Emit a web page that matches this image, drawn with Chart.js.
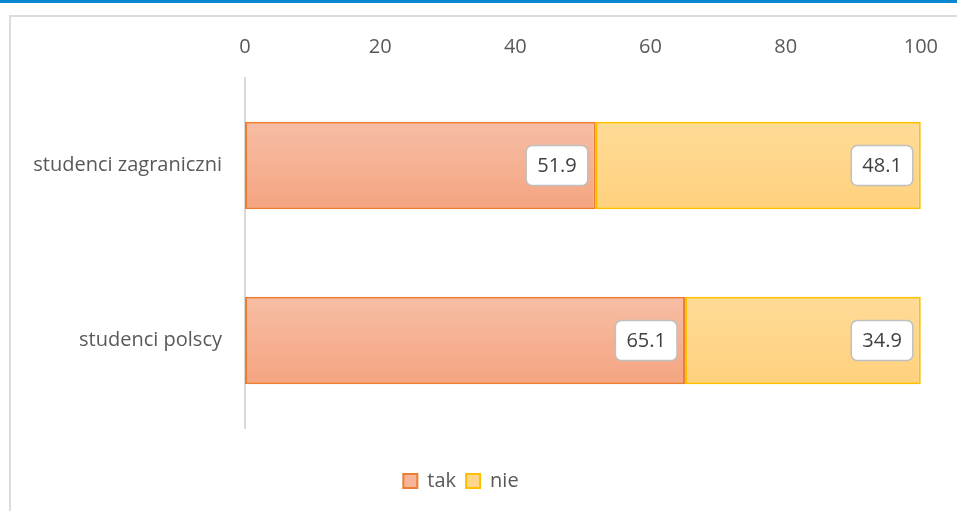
<!DOCTYPE html>
<html>
<head>
<meta charset="utf-8">
<script src="https://cdn.jsdelivr.net/npm/chart.js@4/dist/chart.umd.min.js"></script>
<style>
  body { margin: 0; background: #fff; overflow: hidden; }
  .topbar { position: absolute; left: 0; top: 0; width: 957px; height: 3px; background: #0a88cf; }
  .frame { position: absolute; left: 9px; top: 15px; width: 1000px; height: 600px; border: 2px solid #dcdcdc; }
  .wrap { position: absolute; left: 0; top: 0; width: 957px; height: 511px; }
</style>
</head>
<body>
<div class="topbar"></div>
<div class="frame"></div>
<div class="wrap"><canvas id="chart"></canvas></div>
<script>
// Data
const categories = ['studenci zagraniczni', 'studenci polscy'];
const tak = [51.9, 65.1];
const nie = [48.1, 34.9];
const seriesNames = ['tak', 'nie'];
const tickValues = [0, 20, 40, 60, 80, 100];

const FONT = '"Open Sans", Lato, sans-serif';

// vertical gradient for each bar, based on the category position
const barGradient = (top, bottom) => ctx => {
  const chart = ctx.chart;
  const y = chart.scales.y;
  if (!y || !chart.chartArea || ctx.dataIndex === undefined) return top;
  const c = y.getPixelForValue(ctx.dataIndex);
  const half = y.height / categories.length / 4;
  const g = chart.ctx.createLinearGradient(0, c - half, 0, c + half);
  g.addColorStop(0, top);
  g.addColorStop(1, bottom);
  return g;
};

// labels in white rounded boxes at the inner end of each bar
const boxLabels = {
  id: 'boxLabels',
  afterDatasetsDraw: chart => {
    const ctx = chart.ctx;
    ctx.save();
    ctx.font = '20px ' + FONT;
    ctx.textAlign = 'center';
    ctx.textBaseline = 'middle';
    chart.data.datasets.forEach((ds, i) => {
      chart.getDatasetMeta(i).data.forEach((bar, j) => {
        const txt = ds.data[j].toFixed(1);
        const w = ctx.measureText(txt).width + 22;
        const h = 40;
        const x = bar.x - 8 - w;
        const y = bar.y - h / 2;
        ctx.beginPath();
        ctx.roundRect(x, y, w, h, 6);
        ctx.fillStyle = '#fff';
        ctx.fill();
        ctx.lineWidth = 1.5;
        ctx.strokeStyle = '#bfbfbf';
        ctx.stroke();
        ctx.fillStyle = '#404040';
        ctx.fillText(txt, x + w / 2, bar.y + 1);
      });
    });
    ctx.restore();
  }
};

const chart = new Chart(document.getElementById('chart'), {
  type: 'bar',
  data: {
    labels: categories,
    datasets: [{
      label: seriesNames[0],
      data: tak,
      backgroundColor: barGradient('#f7bea5', '#f4a480'),
      borderColor: '#ed7d31',
      borderWidth: 2,
      borderSkipped: false,
      legendFill: '#f6b59a'
    }, {
      label: seriesNames[1],
      data: nie,
      backgroundColor: barGradient('#ffdb97', '#ffd17d'),
      borderColor: '#ffc000',
      borderWidth: 2,
      borderSkipped: false,
      legendFill: '#ffd68a'
    }]
  },
  options: {
    indexAxis: 'y',
    responsive: true,
    maintainAspectRatio: false,
    animation: false,
    layout: { padding: { left: 0, right: 35, top: 0, bottom: 10 } },
    datasets: { bar: { categoryPercentage: 1, barPercentage: 0.5 } },
    scales: {
      x: {
        position: 'top',
        stacked: true,
        min: 0,
        max: 100,
        afterBuildTicks: s => { s.ticks = tickValues.map(v => ({ value: v })); },
        afterFit: s => { s.height = 78; },
        grid: { display: false, drawTicks: false },
        border: { display: false },
        ticks: { padding: 19, color: '#595959', font: { family: FONT, size: 20 } }
      },
      x2: {
        type: 'linear',
        position: 'bottom',
        display: true,
        afterFit: s => { s.height = 33; },
        grid: { display: false, drawTicks: false },
        border: { display: false },
        ticks: { display: false }
      },
      y: {
        stacked: true,
        afterFit: s => { s.width = 245; },
        grid: { display: false, drawTicks: false },
        border: { display: true, color: '#d9d9d9', width: 2 },
        ticks: { padding: 23, color: '#595959', font: { family: FONT, size: 20 } }
      }
    },
    plugins: {
      legend: {
        position: 'bottom',
        labels: {
          color: '#595959',
          font: { family: FONT, size: 20 },
          boxWidth: 14,
          boxHeight: 14,
          padding: 10,
          generateLabels: c => {
            const items = Chart.defaults.plugins.legend.labels.generateLabels(c);
            items.forEach(it => {
              it.fillStyle = c.data.datasets[it.datasetIndex].legendFill;
              it.lineWidth = 2;
            });
            return items;
          }
        }
      },
      tooltip: { enabled: false }
    }
  },
  plugins: [boxLabels]
});
</script>
</body>
</html>
